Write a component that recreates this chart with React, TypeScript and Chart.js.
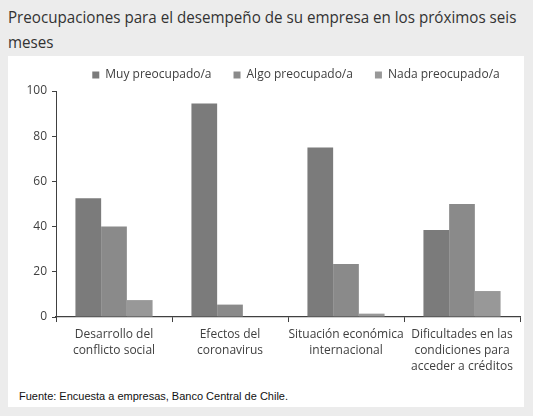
import React, { useEffect, useRef } from "react";
import { Chart, registerables } from "chart.js";

Chart.register(...registerables);

const titleLine1 = "Preocupaciones para el desempeño de su empresa en los próximos seis";
const titleLine2 = "meses";
const source = "Fuente: Encuesta a empresas, Banco Central de Chile.";

const categories: string[][] = [
  ["Desarrollo del", "conflicto social"],
  ["Efectos del", "coronavirus"],
  ["Situación económica", "internacional"],
  ["Dificultades en las", "condiciones para", "acceder a créditos"],
];
const seriesNames = ["Muy preocupado/a", "Algo preocupado/a", "Nada preocupado/a"];
const muyValues = [52.5, 94.5, 75, 38.5];
const algoValues = [40, 5.5, 23.5, 50];
const nadaValues = [7.5, 0, 1.5, 11.5];
const seriesColors = ["#7b7b7b", "#8a8a8a", "#989898"];
const yMin = 0;
const yMax = 100;
const yStep = 20;

const FONT = "'Open Sans', sans-serif";

// Moves the legend a little to the right of the plot-area centre, as in the original.
const legendShift = {
  id: "legendShift",
  afterLayout(chart: any) {
    const lg = chart.legend;
    if (lg) {
      lg.left += 8;
      lg.right += 8;
    }
  },
};

export default function App() {
  const ref = useRef<HTMLCanvasElement | null>(null);

  useEffect(() => {
    if (!ref.current) return;
    const values = [muyValues, algoValues, nadaValues];
    const chart = new Chart(ref.current, {
      type: "bar",
      data: {
        labels: categories,
        datasets: seriesNames.map((name, i) => ({
          label: name,
          data: values[i],
          backgroundColor: seriesColors[i],
          borderWidth: 0,
          categoryPercentage: 0.665,
          barPercentage: 1.0,
        })),
      },
      plugins: [legendShift],
      options: {
        responsive: false,
        animation: false,
        devicePixelRatio: 1,
        layout: { padding: { left: 8, right: 4, top: 8, bottom: 0 } },
        plugins: {
          legend: {
            position: "top",
            fullSize: false,
            align: "center",
            labels: {
              boxWidth: 7,
              boxHeight: 7,
              padding: 22,
              color: "#404040",
              font: { family: FONT, size: 12 },
            },
          },
          tooltip: { enabled: false },
          title: { display: false },
        },
        scales: {
          x: {
            offset: true,
            grid: {
              display: true,
              offset: true,
              drawOnChartArea: false,
              tickLength: 5,
              color: "#404040",
              lineWidth: 1,
            },
            border: { display: true, color: "#404040", width: 1.2 },
            ticks: {
              color: "#404040",
              font: { family: FONT, size: 12, lineHeight: 1.36 },
              maxRotation: 0,
              minRotation: 0,
              autoSkip: false,
              padding: 4,
            },
          },
          y: {
            min: yMin,
            max: yMax,
            afterFit: (scale: any) => {
              scale.width = 40;
            },
            grid: {
              display: true,
              drawOnChartArea: false,
              tickLength: 4,
              color: "#404040",
            },
            border: { display: true, color: "#404040", width: 1 },
            ticks: {
              stepSize: yStep,
              color: "#404040",
              font: { family: FONT, size: 12 },
              padding: 5,
            },
          },
        },
      },
    });
    return () => chart.destroy();
  }, []);

  return (
    <div
      style={{
        position: "absolute",
        left: 0,
        top: 0,
        width: 533,
        height: 416,
        background: "#ececec",
        overflow: "hidden",
      }}
    >
      <div
        style={{
          position: "absolute",
          left: 8,
          top: 4,
          width: 520,
          height: 416,
        }}
      >
        <div
          style={{
            fontFamily: FONT,
            fontSize: 17,
            lineHeight: "25px",
            color: "#333333",
            whiteSpace: "nowrap",
            transform: "scaleX(0.892)",
            transformOrigin: "0 0",
          }}
        >
          {titleLine1}
          <br />
          {titleLine2}
        </div>
      </div>
      <div
        style={{
          position: "absolute",
          left: 8,
          top: 56,
          width: 516,
          height: 351,
          background: "#ffffff",
        }}
      >
        <div
          style={{
            fontFamily: "'Liberation Sans', Arial, sans-serif",
            position: "absolute",
            left: 11,
            top: 334,
            fontSize: 11,
            color: "#111111",
            whiteSpace: "nowrap",
          }}
        >
          {source}
        </div>
      </div>
      <canvas
        ref={ref}
        width={516}
        height={340}
        style={{ position: "absolute", left: 8, top: 39, display: "block" }}
      />
    </div>
  );
}
